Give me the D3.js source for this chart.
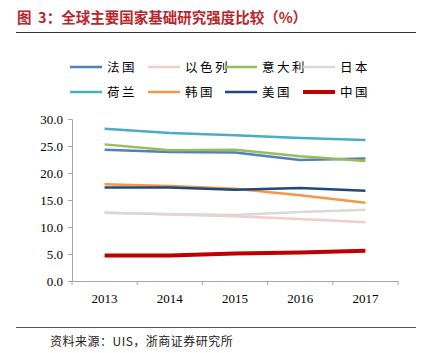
<!DOCTYPE html>
<html>
<head>
<meta charset="utf-8">
<script src="https://cdn.jsdelivr.net/npm/d3@7"></script>
<style>
  body { margin: 0; background: #fff; }
  svg text { font-family: "Liberation Serif", "Noto Sans CJK SC", serif; }
  .cjk { font-family: "Noto Sans CJK SC", sans-serif; }
</style>
</head>
<body>
<div id="wrapper"></div>
<script>
// data
const years = ["2013", "2014", "2015", "2016", "2017"]
const countries = ["法国", "以色列", "意大利", "日本", "荷兰", "韩国", "美国", "中国"]
const france = [24.3, 23.9, 23.8, 22.4, 22.7]
const israel = [12.7, 12.3, 12.0, 11.5, 10.9]
const italy = [25.3, 24.2, 24.3, 23.1, 22.2]
const japan = [12.6, 12.4, 12.2, 12.8, 13.2]
const netherlands = [28.2, 27.4, 27.0, 26.5, 26.1]
const korea = [17.9, 17.6, 17.1, 15.9, 14.5]
const usa = [17.3, 17.3, 16.9, 17.2, 16.7]
const china = [4.7, 4.7, 5.1, 5.3, 5.6]
const yTicks = [0, 5, 10, 15, 20, 25, 30]

const seriesValues = [france, israel, italy, japan, netherlands, korea, usa, china]
const colors = ["#4F81BD", "#F2CDCB", "#9BBB59", "#D9D9D9", "#4BACC6", "#F79646", "#1F497D", "#C00000"]

const width = 421
const height = 353
let dimensions = {
  margin: { top: 119, left: 72, right: 23, bottom: 72 }
}
dimensions.boundedWidth = width - dimensions.margin.left - dimensions.margin.right
dimensions.boundedHeight = height - dimensions.margin.top - dimensions.margin.bottom

const svg = d3.select("#wrapper").append("svg")
  .attr("width", width)
  .attr("height", height)

// title
svg.append("text")
  .attr("class", "cjk")
  .attr("x", 17)
  .attr("y", 23)
  .attr("fill", "#B8262C")
  .style("font-size", "14.5px")
  .style("font-weight", "bold")
  .style("white-space", "pre")
  .text("图  3：全球主要国家基础研究强度比较（%）")

svg.append("line")
  .attr("x1", 16).attr("x2", 416)
  .attr("y1", 32.5).attr("y2", 32.5)
  .attr("stroke", "#333").attr("stroke-width", 1.2)

svg.append("line")
  .attr("x1", 16).attr("x2", 416)
  .attr("y1", 327.5).attr("y2", 327.5)
  .attr("stroke", "#555").attr("stroke-width", 1)

svg.append("text")
  .attr("class", "cjk")
  .attr("x", 50)
  .attr("y", 346)
  .attr("fill", "#222")
  .style("font-size", "12px")
  .style("letter-spacing", "0.5px")
  .text("资料来源：UIS，浙商证券研究所")

const bounds = svg.append("g")
  .attr("transform", `translate(${dimensions.margin.left},${dimensions.margin.top})`)

// scales
const xScale = d3.scaleBand()
  .domain(years)
  .range([0, dimensions.boundedWidth])

const yScale = d3.scaleLinear()
  .domain([0, 30])
  .range([dimensions.boundedHeight, 0])

// y axis
const yAxis = bounds.append("g")
  .call(d3.axisLeft(yScale).tickValues(yTicks).tickFormat(d3.format(".1f")).tickSize(4))
yAxis.attr("font-family", null)
yAxis.select(".domain").attr("stroke", "#A6A6A6")
yAxis.selectAll(".tick line").attr("stroke", "#A6A6A6")
yAxis.selectAll(".tick text")
  .attr("x", -9)
  .attr("fill", "#000")
  .style("font-size", "13px")
  .style("font-family", "Liberation Serif")

// x axis
const xAxis = bounds.append("g")
  .attr("transform", `translate(0,${dimensions.boundedHeight})`)
  .call(d3.axisBottom(xScale).tickSize(0).tickPadding(13))
xAxis.attr("font-family", null)
xAxis.select(".domain").attr("stroke", "#A6A6A6")
xAxis.selectAll(".tick text")
  .attr("fill", "#000")
  .style("font-size", "13px")
  .style("font-family", "Liberation Serif")

const bandTicks = years.map(y => xScale(y)).concat([dimensions.boundedWidth])
bounds.append("g").selectAll("line")
  .data(bandTicks)
  .join("line")
  .attr("x1", d => d).attr("x2", d => d)
  .attr("y1", dimensions.boundedHeight)
  .attr("y2", dimensions.boundedHeight + 4)
  .attr("stroke", "#A6A6A6")

// lines
const lineGenerator = d3.line()
  .x((d, i) => xScale(years[i]) + xScale.bandwidth() / 2)
  .y(d => yScale(d))

seriesValues.forEach((vals, i) => {
  bounds.append("path")
    .attr("d", lineGenerator(vals))
    .attr("fill", "none")
    .attr("stroke", colors[i])
    .attr("stroke-width", i === 7 ? 4 : 2.5)
    .attr("stroke-linejoin", "round")
})

// legend
const legendX = [70, 148, 225, 303]
const legendY = [67, 92]
const legend = svg.append("g")
countries.forEach((name, i) => {
  const lx = legendX[i % 4]
  const ly = legendY[Math.floor(i / 4)]
  legend.append("line")
    .attr("x1", lx).attr("x2", lx + 32)
    .attr("y1", ly).attr("y2", ly)
    .attr("stroke", colors[i])
    .attr("stroke-width", i === 7 ? 4 : 2.5)
  legend.append("text")
    .attr("class", "cjk")
    .attr("x", lx + 37)
    .attr("y", ly + 4.5)
    .attr("fill", "#000")
    .style("font-size", "12.5px")
    .style("letter-spacing", "2.5px")
    .text(name)
})
</script>
</body>
</html>
